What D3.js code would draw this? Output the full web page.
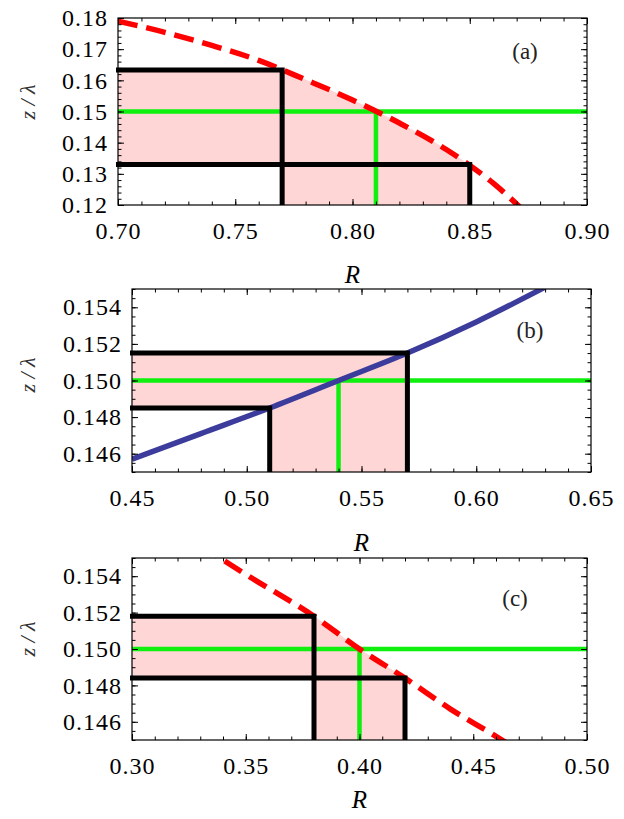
<!DOCTYPE html>
<html>
<head>
<meta charset="utf-8">
<script src="https://cdn.jsdelivr.net/npm/d3@7"></script>
<style>
body { margin: 0; background: #fff; }
svg { display: block; }
.tick line { stroke: #000; stroke-width: 1; }
.frame { fill: none; stroke: #000; stroke-width: 1.2; }
</style>
</head>
<body>
<script>
// Data {{{1
const panelTags = ["(a)", "(b)", "(c)"];

// red dashed curve, panel (a)
const curveA_R = [0.70, 0.72, 0.74, 0.76, 0.78, 0.80, 0.82, 0.84, 0.86, 0.88];
const curveA_z = [0.1790, 0.1754, 0.1712, 0.1664, 0.1602, 0.1537, 0.1463, 0.1378, 0.1270, 0.1130];
// blue curve, panel (b)
const curveB_R = [0.45, 0.48, 0.51, 0.54, 0.57, 0.60, 0.63];
const curveB_z = [0.1457, 0.1471, 0.1485, 0.1500, 0.1515, 0.1532, 0.1551];
// red dashed curve, panel (c)
const curveC_R = [0.33, 0.35, 0.38, 0.40, 0.42, 0.44, 0.46, 0.48];
const curveC_z = [0.1557, 0.1541, 0.1518, 0.1500, 0.1484, 0.1467, 0.1452, 0.1436];

// black bounds (R, z/lambda) and green target point
const boundsA_R = [0.77, 0.85], boundsA_z = [0.1633, 0.133], targetA = [0.81, 0.15];
const boundsB_R = [0.51, 0.57], boundsB_z = [0.1485, 0.1515], targetB = [0.54, 0.15];
const boundsC_R = [0.38, 0.42], boundsC_z = [0.1518, 0.1484], targetC = [0.40, 0.15];

// tick labels
const rTicksA = [0.70, 0.75, 0.80, 0.85, 0.90];
const zTicksA = [0.12, 0.13, 0.14, 0.15, 0.16, 0.17, 0.18];
const rTicksB = [0.45, 0.50, 0.55, 0.60, 0.65];
const zTicksB = [0.146, 0.148, 0.150, 0.152, 0.154];
const rTicksC = [0.30, 0.35, 0.40, 0.45, 0.50];
const zTicksC = [0.146, 0.148, 0.150, 0.152, 0.154];

// Panel layout {{{1
const SERIF = "'Liberation Serif', 'Times New Roman', 'DejaVu Serif', serif";
const panels = [
  { tag: panelTags[0], R: curveA_R, z: curveA_z, bR: boundsA_R, bz: boundsA_z, target: targetA,
    rTicks: rTicksA, zTicks: zTicksA, rMinor: 0.01, zMinor: 0.002, zFmt: ".2f",
    rDomain: [0.70, 0.90], zDomain: [0.12, 0.18], box: [118, 587, 18, 205],
    color: "#ff0000", dashed: true, clipUnder: true,
    rLabelY: 283, zLabelY: 102, tagXY: [525, 59] },
  { tag: panelTags[1], R: curveB_R, z: curveB_z, bR: boundsB_R, bz: boundsB_z, target: targetB,
    rTicks: rTicksB, zTicks: zTicksB, rMinor: 0.01, zMinor: 0.0005, zFmt: ".3f",
    rDomain: [0.45, 0.65], zDomain: [0.145, 0.155], box: [132, 591, 289, 472],
    color: "#3c3c9c", dashed: false, clipUnder: false,
    rLabelY: 551, zLabelY: 375, tagXY: [530, 338] },
  { tag: panelTags[2], R: curveC_R, z: curveC_z, bR: boundsC_R, bz: boundsC_z, target: targetC,
    rTicks: rTicksC, zTicks: zTicksC, rMinor: 0.01, zMinor: 0.0005, zFmt: ".3f",
    rDomain: [0.30, 0.50], zDomain: [0.145, 0.155], box: [132, 587, 558, 740],
    color: "#ff0000", dashed: true, clipUnder: true,
    rLabelY: 808, zLabelY: 639, tagXY: [515, 606] }
];

// Main {{{1
const svg = d3.select("body").append("svg").attr("width", 624).attr("height", 819);
const defs = svg.append("defs");
panels.forEach((p, i) => drawPanel(p, i));

function drawPanel(p, i) {
  const [left, right, top, bottom] = p.box;
  const x = d3.scaleLinear().domain(p.rDomain).range([left, right]);
  const y = d3.scaleLinear().domain(p.zDomain).range([bottom, top]);
  const pts = p.R.map((r, k) => [r, p.z[k]]);

  defs.append("clipPath").attr("id", "plot" + i)
    .append("rect").attr("x", left).attr("y", top)
    .attr("width", right - left).attr("height", bottom - top);

  // region under the curve (plus everything left of where it starts)
  const under = d3.area()
    .x(d => x(d[0])).y0(y(p.zDomain[0])).y1(d => y(d[1]))
    .curve(d3.curveMonotoneX);
  const underClip = defs.append("clipPath").attr("id", "under" + i);
  underClip.append("path").attr("d", under(pts));
  underClip.append("rect")
    .attr("x", left - 10).attr("y", top - 10)
    .attr("width", x(p.R[0]) - left + 10.5).attr("height", bottom - top + 20);

  const plot = svg.append("g").attr("clip-path", `url(#plot${i})`);

  // pink shaded region
  const rLo = d3.min(p.bR), rHi = d3.max(p.bR);
  const zLo = d3.min(p.bz), zHi = d3.max(p.bz);
  const shade = plot.append("g");
  if (p.clipUnder) shade.attr("clip-path", `url(#under${i})`);
  const rects = [
    [p.rDomain[0], rHi, zLo, zHi],
    [rLo, rHi, p.zDomain[0], zHi]
  ];
  shade.selectAll("rect").data(rects).join("rect")
    .attr("x", d => x(d[0])).attr("width", d => x(d[1]) - x(d[0]))
    .attr("y", d => y(d[3])).attr("height", d => y(d[2]) - y(d[3]))
    .attr("fill", "#ffd6d6");

  // green target lines
  const [tR, tz] = p.target;
  plot.append("path")
    .attr("d", `M${left},${y(tz)}H${right}M${x(tR)},${y(tz)}V${bottom}`)
    .attr("fill", "none").attr("stroke", "#0ff00f").attr("stroke-width", 4.5);

  // black bound lines
  svg.append("g").selectAll("path").data(p.bR.map((r, k) => [r, p.bz[k]])).join("path")
    .attr("d", d => `M${left - 2},${y(d[1])}H${x(d[0])}V${bottom}`)
    .attr("fill", "none").attr("stroke", "#000").attr("stroke-width", 5)
    .attr("stroke-linejoin", "miter");

  // curve
  plot.append("path")
    .attr("d", d3.line().x(d => x(d[0])).y(d => y(d[1])).curve(d3.curveMonotoneX)(pts))
    .attr("fill", "none").attr("stroke", p.color).attr("stroke-width", 5.5)
    .attr("stroke-dasharray", p.dashed ? "20,9" : null);

  drawAxes(p, x, y);

  svg.append("rect").classed("frame", true)
    .attr("x", left).attr("y", top).attr("width", right - left).attr("height", bottom - top);

  // labels
  svg.append("text")
    .attr("x", (left + right) / 2).attr("y", p.rLabelY)
    .attr("text-anchor", "middle")
    .style("font-family", SERIF).style("font-style", "italic").style("font-size", "25px")
    .text("R");
  svg.append("text")
    .attr("transform", `translate(35,${p.zLabelY}) rotate(-90)`)
    .attr("text-anchor", "middle")
    .style("font-family", SERIF).style("font-style", "italic").style("font-size", "22px")
    .style("fill", "#333").style("white-space", "pre")
    .text("z / λ");
  svg.append("text")
    .attr("x", p.tagXY[0]).attr("y", p.tagXY[1])
    .attr("text-anchor", "middle")
    .style("font-family", SERIF).style("font-size", "23px").style("fill", "#222")
    .text(p.tag);
}

// Axes {{{1
function drawAxes(p, x, y) {
  const [left, right, top, bottom] = p.box;
  const rMinor = d3.range(p.rDomain[0], p.rDomain[1] + p.rMinor / 2, p.rMinor);
  const zMinor = d3.range(p.zDomain[0], p.zDomain[1] + p.zMinor / 2, p.zMinor);
  const major = 6, minor = 3.5;

  const put = (axis, tx, ty) => svg.append("g")
    .attr("transform", `translate(${tx},${ty})`)
    .call(axis)
    .call(g => g.select(".domain").remove())
    .call(g => g.selectAll("text")
      .attr("font-family", null)
      .style("font-family", SERIF).style("font-size", "24px")
      .style("letter-spacing", "1px").style("fill", "#000"));

  // minor ticks
  put(d3.axisBottom(x).tickValues(rMinor).tickSize(-minor).tickFormat(""), 0, bottom);
  put(d3.axisTop(x).tickValues(rMinor).tickSize(-minor).tickFormat(""), 0, top);
  put(d3.axisLeft(y).tickValues(zMinor).tickSize(-minor).tickFormat(""), left, 0);
  put(d3.axisRight(y).tickValues(zMinor).tickSize(-minor).tickFormat(""), right, 0);

  // major ticks
  put(d3.axisBottom(x).tickValues(p.rTicks).tickSize(-major).tickPadding(17).tickFormat(d3.format(".2f")), 0, bottom);
  put(d3.axisTop(x).tickValues(p.rTicks).tickSize(-major).tickFormat(""), 0, top);
  put(d3.axisLeft(y).tickValues(p.zTicks).tickSize(-major).tickPadding(10).tickFormat(d3.format(p.zFmt)), left, 0);
  put(d3.axisRight(y).tickValues(p.zTicks).tickSize(-major).tickFormat(""), right, 0);
}
// vim: set expandtab softtabstop=2 tabstop=2 :
</script>
</body>
</html>
